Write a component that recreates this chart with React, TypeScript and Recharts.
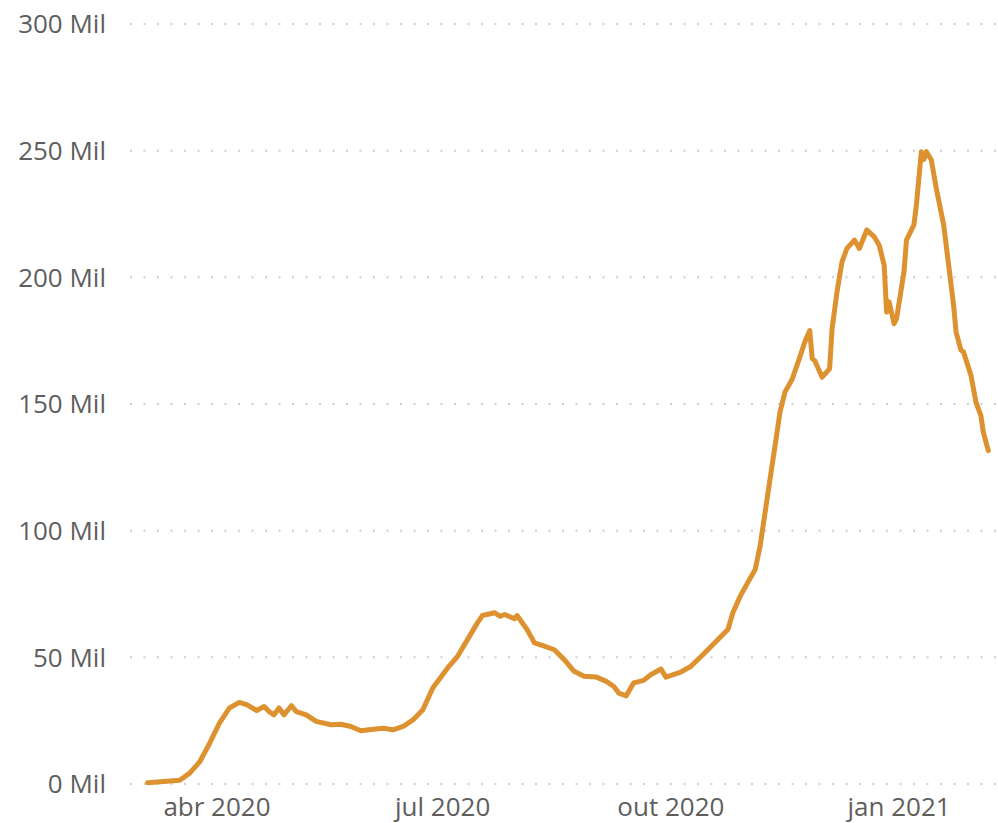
import { LineChart, Line, XAxis, YAxis, CartesianGrid } from 'recharts';

const dates = [
  '2020-03-04', '2020-03-17', '2020-03-21', '2020-03-25', '2020-03-29', '2020-04-02', '2020-04-06',
  '2020-04-10', '2020-04-13', '2020-04-17', '2020-04-20', '2020-04-22', '2020-04-24', '2020-04-26',
  '2020-04-28', '2020-05-01', '2020-05-03', '2020-05-07', '2020-05-11', '2020-05-17', '2020-05-21',
  '2020-05-25', '2020-05-29', '2020-06-03', '2020-06-07', '2020-06-11', '2020-06-15', '2020-06-19',
  '2020-06-23', '2020-06-27', '2020-07-03', '2020-07-07', '2020-07-11', '2020-07-15', '2020-07-17',
  '2020-07-22', '2020-07-24', '2020-07-26', '2020-07-30', '2020-07-31', '2020-08-04', '2020-08-07',
  '2020-08-11', '2020-08-15', '2020-08-19', '2020-08-23', '2020-08-27', '2020-09-01', '2020-09-05',
  '2020-09-08', '2020-09-10', '2020-09-13', '2020-09-16', '2020-09-20', '2020-09-23', '2020-09-27',
  '2020-09-29', '2020-10-05', '2020-10-09', '2020-10-14', '2020-10-20', '2020-10-24', '2020-10-26',
  '2020-10-29', '2020-11-01', '2020-11-04', '2020-11-06', '2020-11-08', '2020-11-10', '2020-11-12',
  '2020-11-14', '2020-11-16', '2020-11-19', '2020-11-22', '2020-11-24', '2020-11-26', '2020-11-27',
  '2020-11-28', '2020-12-01', '2020-12-04', '2020-12-05', '2020-12-07', '2020-12-09', '2020-12-11',
  '2020-12-14', '2020-12-16', '2020-12-19', '2020-12-22', '2020-12-24', '2020-12-26', '2020-12-27',
  '2020-12-28', '2020-12-30', '2020-12-31', '2021-01-03', '2021-01-04', '2021-01-07', '2021-01-08',
  '2021-01-10', '2021-01-11', '2021-01-12', '2021-01-14', '2021-01-16', '2021-01-19', '2021-01-21',
  '2021-01-23', '2021-01-24', '2021-01-26', '2021-01-27', '2021-01-30', '2021-02-01', '2021-02-03',
  '2021-02-04', '2021-02-06',
];

const values = [
  0.5, 1.5, 4.3, 8.7, 16, 24, 30,
  32.2, 31.3, 29, 30.6, 28.6, 27.3, 30,
  27.3, 30.9, 28.6, 27.3, 24.7, 23.4, 23.6,
  22.7, 21, 21.6, 22, 21.4, 22.7, 25.3,
  29.3, 37.9, 45.8, 50.4, 57, 63.6, 66.5,
  67.6, 66.2, 66.9, 65.2, 66.5, 61, 55.7,
  54.4, 53, 49.1, 44.5, 42.5, 42.2, 40.5,
  38.5, 35.9, 34.8, 39.9, 40.9, 43.2, 45.4,
  42.2, 44.2, 46.4, 51.1, 57, 61, 67.6,
  74.2, 79.5, 84.7, 94, 107.2, 120.4, 133.5,
  146.8, 154.7, 160, 168.5, 174.5, 179, 167.9,
  167.2, 160.6, 163.9, 179.7, 194.3, 206.1, 211.4,
  214.7, 211.4, 218.7, 216, 212.7, 204.8, 186.3,
  190.3, 181.7, 183.7, 202.2, 214.7, 220.7, 228.6,
  249.6, 246.5, 249.6, 246.4, 235.2, 220.7, 204.8,
  189, 178.4, 171.2, 170.5, 161.3, 150.7, 145.4,
  138.8, 131.6,
];

const xTickDates = ['2020-04-01', '2020-07-01', '2020-10-01', '2021-01-01'];
const xTickLabels = ['abr 2020', 'jul 2020', 'out 2020', 'jan 2021'];
const yTicks = [0, 50, 100, 150, 200, 250, 300];

const toTime = (d: string) => Date.parse(d + 'T00:00:00Z');
const DAY = 86400000;

const data = dates.map((d, i) => ({ t: toTime(d), v: values[i] }));
const xTicks = xTickDates.map(toTime);
const base = toTime('2020-03-01');
const xDomain = [base - 4.07 * DAY, base + 345.9 * DAY];

const font = "'Segoe UI', 'Open Sans', sans-serif";

export default function App() {
  return (
    <div style={{ position: 'absolute', left: 0, top: 0, width: 998, height: 823, background: '#fff' }}>
      <LineChart width={998} height={823} data={data} margin={{ top: 24, right: 0, left: 0, bottom: 0 }}>
        <CartesianGrid vertical={false} stroke="#cfcfcf" strokeWidth={2} strokeDasharray="2 11.5" />
        <XAxis
          dataKey="t"
          type="number"
          scale="time"
          domain={xDomain}
          ticks={xTicks}
          tickFormatter={(t: number) => xTickLabels[xTicks.indexOf(t)]}
          axisLine={false}
          tickLine={false}
          tickSize={0}
          tickMargin={14}
          height={39}
          interval={0}
          tick={{ fill: '#605E5C', fontSize: 26, fontFamily: font }}
        />
        <YAxis
          domain={[0, 300]}
          ticks={yTicks}
          tickFormatter={(v: number) => `${v} Mil`}
          axisLine={false}
          tickLine={false}
          tickSize={0}
          tickMargin={24}
          width={130}
          interval={0}
          tick={{ fill: '#605E5C', fontSize: 26, fontFamily: font }}
        />
        <Line
          type="linear"
          dataKey="v"
          stroke="#DD912F"
          strokeWidth={5}
          strokeLinejoin="round"
          strokeLinecap="round"
          dot={false}
          activeDot={false}
          isAnimationActive={false}
        />
      </LineChart>
    </div>
  );
}
